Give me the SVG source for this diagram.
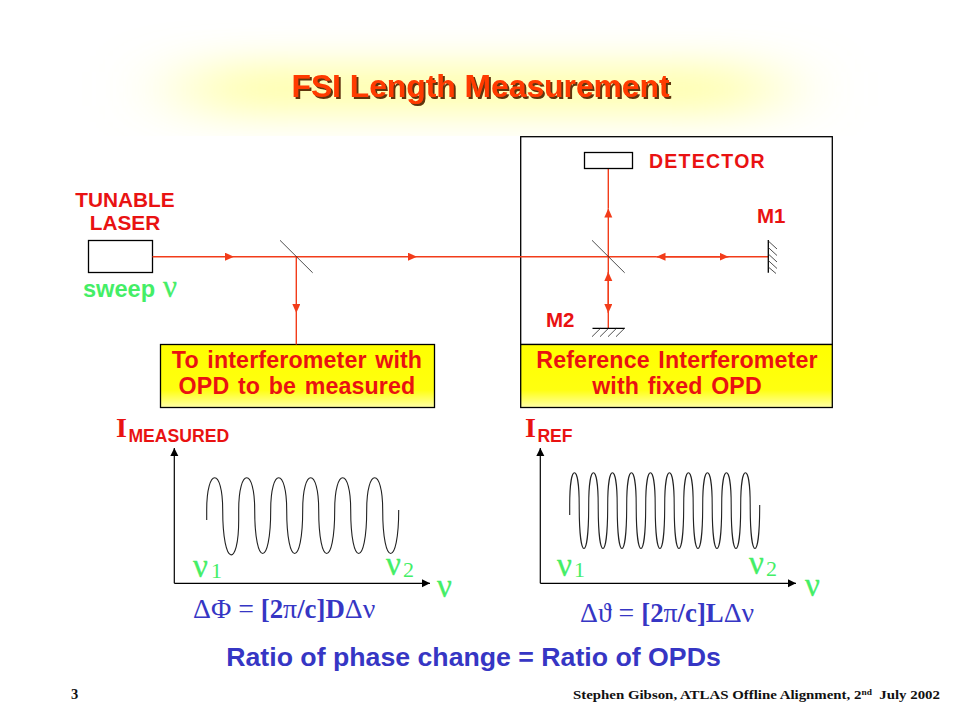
<svg xmlns="http://www.w3.org/2000/svg" width="960" height="720" viewBox="0 0 960 720">
<style>
.sans{font-family:"Liberation Sans",Arial,sans-serif;font-weight:700}
.serif{font-family:"Liberation Serif","Times New Roman",serif}
.red{fill:#e91212}
.green{fill:#44ee66}
.blue{fill:#3636c4}
.box{stroke:#000;stroke-width:1.3;fill:#fff}
.yel{stroke:#000;stroke-width:1.3;fill:url(#yg)}
.beam{stroke:#f23c1a;stroke-width:1.4;fill:none}
.beamA{stroke:#f23c1a;stroke-width:1.4;fill:none;marker-end:url(#ah)}
.thin{stroke:#222;stroke-width:.8;fill:none}
.thick{stroke:#000;stroke-width:1.3;fill:none}
.axis{stroke:#000;stroke-width:1.2;fill:none;marker-end:url(#ax)}
.wave{stroke:#222;stroke-width:1.1;fill:none}
.c{text-anchor:middle}
.nu{font-size:33px;font-family:"Liberation Serif",serif;stroke:#44ee66;stroke-width:.3}
.sub{font-size:22px;font-family:"Liberation Serif",serif}
.eq{font-size:26.8px;font-weight:700;font-family:"Liberation Serif",serif}
.eqs{font-weight:400;font-size:27.8px}
.I{font-size:28px;font-weight:700;font-family:"Liberation Serif",serif}
.isub{font-size:17.6px}
.lab{font-size:23.2px;letter-spacing:.15px;word-spacing:2px}
.small{font-size:20.8px}
.mir{font-size:20.5px}
</style>
<defs>
<marker id="ah" markerUnits="userSpaceOnUse" markerWidth="10" markerHeight="9" refX="9" refY="4" orient="auto"><path d="M0 0L9 4L0 8Z" fill="#f23c1a"/></marker>
<marker id="ax" markerUnits="userSpaceOnUse" markerWidth="10" markerHeight="10" refX="8" refY="4" orient="auto"><path d="M0 0L8 4L0 8Z" fill="#000"/></marker>
<linearGradient id="yg" x1="0" y1="0" x2="0" y2="1"><stop offset="0" stop-color="#ffff00"/><stop offset=".72" stop-color="#ffff10"/><stop offset="1" stop-color="#ffffa8"/></linearGradient>
<filter id="blur" x="-40%" y="-200%" width="180%" height="500%"><feGaussianBlur stdDeviation="45 22"/></filter>
<filter id="sh" x="-5%" y="-20%" width="110%" height="140%"><feDropShadow dx="2" dy="2" stdDeviation=".4" flood-color="#5e3410"/></filter>
<clipPath id="tc"><rect x="80" y="20" width="800" height="116"/></clipPath>
</defs>

<g id="title">
<g clip-path="url(#tc)"><rect x="190" y="70" width="580" height="38" fill="#ffff90" filter="url(#blur)"/></g>
<text x="480.5" y="97" class="sans c" font-size="31.8" fill="#ff3a00" filter="url(#sh)">FSI Length Measurement</text>
</g>

<g id="laser">
<rect class="box" x="88.5" y="240.5" width="64" height="32"/>
<text x="125" y="206.5" class="sans c red small">TUNABLE</text>
<text x="125" y="229.5" class="sans c red small">LASER</text>
<text x="83" y="297" class="sans green" font-size="23.6">sweep</text>
<text x="163" y="297" class="nu green" style="font-size:31px">ν</text>
</g>

<g id="interferometer-box">
<rect class="yel" x="160.5" y="344.5" width="274" height="63"/>
<text x="297" y="368" class="sans c red lab">To interferometer with</text>
<text x="297" y="394" class="sans c red lab">OPD to be measured</text>
</g>

<g id="reference-interferometer">
<rect class="box" x="520.7" y="136.7" width="311.6" height="207.8"/>
<rect class="yel" x="520.7" y="344.5" width="311.6" height="63"/>
<text x="677" y="368" class="sans c red lab">Reference Interferometer</text>
<text x="677" y="394" class="sans c red lab">with fixed OPD</text>
</g>

<g id="connectors">
<path class="beamA" d="M152.5 256.7H234"/>
<path class="beamA" d="M234 256.7H417"/>
<path class="beam" d="M417 256.7H656.5"/>
<path class="beamA" d="M296.3 256.7V313"/>
<path class="beam" d="M296.3 313V344.5"/>
<path class="beamA" d="M608.3 256.7V208.5"/>
<path class="beam" d="M608.3 208.5V168.5"/>
<path class="beam" d="M608.3 256.7V272"/>
<path class="beamA" d="M608.3 328.3V272"/>
<path class="beamA" d="M608.3 272V313"/>
<path class="beamA" d="M768.3 256.7H656.5"/>
<path class="beamA" d="M656.5 256.7H728.5"/>
</g>

<g id="splitter1"><path class="thin" d="M280 240.3L312.7 272.8"/></g>

<g id="detector">
<rect class="box" x="584.5" y="152.5" width="48" height="16"/>
<text x="649" y="168" class="sans red" font-size="19.5" letter-spacing="1.25">DETECTOR</text>
</g>

<g id="splitter2"><path class="thin" d="M592 240.3L624.7 272.8"/></g>

<g id="mirror-m1">
<path class="thick" d="M768.3 240V272.7"/>
<path class="thin" d="M768.3 241L777 249M768.3 247.5L777 255.5M768.3 254L777 262M768.3 260.5L777 268.5M768.3 267L776 273.5"/>
<text x="757" y="223" class="sans red mir">M1</text>
</g>

<g id="mirror-m2">
<path class="thick" d="M592.5 328.3H624.7"/>
<path class="thin" d="M600.5 328.3L592 336.7M608.5 328.3L600 336.7M616.5 328.3L608 336.7M624.5 328.3L616 336.7"/>
<text x="546" y="327" class="sans red mir">M2</text>
</g>

<g id="graph-measured">
<path class="axis" d="M174.3 583.3V448"/>
<path class="axis" d="M174.3 583.3H430"/>
<path class="wave" d="M206.7 520V510C206.7 467 222.7 467 222.7 510C222.7 568 238.7 568 238.7 520V510C238.7 467 254.7 467 254.7 510C254.7 568 270.7 568 270.7 510C270.7 467 286.7 467 286.7 510C286.7 568 302.7 568 302.7 510C302.7 467 318.7 467 318.7 510C318.7 568 334.7 568 334.7 510C334.7 467 350.7 467 350.7 510C350.7 568 366.7 568 366.7 510C366.7 467 382.7 467 382.7 510C382.7 568 398.7 568 398.7 510"/>
<text x="116" y="437" class="I red">I<tspan class="sans isub" dx="1.5" dy="5">MEASURED</tspan></text>
<text x="193" y="577" class="nu green">ν</text><text x="211" y="578" class="sub green">1</text>
<text x="386" y="575" class="nu green">ν</text><text x="403" y="577" class="sub green">2</text>
<text x="437" y="597" class="nu green">ν</text>
<text x="193" y="618" class="eq blue"><tspan class="eqs">ΔΦ = </tspan>[2<tspan class="eqs">π</tspan>/c]D<tspan class="eqs">Δν</tspan></text>
</g>

<g id="graph-ref">
<path class="axis" d="M540.3 583.3V448"/>
<path class="axis" d="M540.3 583.3H796"/>
<path class="wave" d="M569.7 515V505C569.7 462 579.2 462 579.2 505C579.2 563 588.7 563 588.7 505C588.7 462 598.2 462 598.2 505C598.2 563 607.7 563 607.7 505C607.7 462 617.2 462 617.2 505C617.2 563 626.7 563 626.7 505C626.7 462 636.2 462 636.2 505C636.2 563 645.7 563 645.7 505C645.7 462 655.2 462 655.2 505C655.2 563 664.7 563 664.7 505C664.7 462 674.2 462 674.2 505C674.2 563 683.7 563 683.7 505C683.7 462 693.2 462 693.2 505C693.2 563 702.7 563 702.7 505C702.7 462 712.2 462 712.2 505C712.2 563 721.7 563 721.7 505C721.7 462 731.2 462 731.2 505C731.2 563 740.7 563 740.7 505C740.7 462 750.2 462 750.2 505C750.2 563 759.7 563 759.7 505"/>
<text x="525" y="437" class="I red">I<tspan class="sans isub" dx="1.5" dy="5">REF</tspan></text>
<text x="557" y="576" class="nu green">ν</text><text x="574" y="577" class="sub green">1</text>
<text x="749" y="574" class="nu green">ν</text><text x="766" y="576" class="sub green">2</text>
<text x="805" y="596" class="nu green">ν</text>
<text x="580" y="622" class="eq blue"><tspan class="eqs">Δϑ = </tspan>[2<tspan class="eqs">π</tspan>/c]L<tspan class="eqs">Δν</tspan></text>
</g>

<g id="footer">
<text x="473.5" y="666" class="sans c blue" font-size="26.7">Ratio of phase change = Ratio of OPDs</text>
<text x="71" y="699" class="serif" font-size="14.5" font-weight="700" fill="#111">3</text>
<text x="573" y="699" class="serif" font-size="13.5" font-weight="700" fill="#111" textLength="367" lengthAdjust="spacingAndGlyphs">Stephen Gibson, ATLAS Offline Alignment, 2<tspan font-size="8.5" dy="-4">nd</tspan><tspan dy="4" xml:space="preserve">  July 2002</tspan></text>
</g>
</svg>
